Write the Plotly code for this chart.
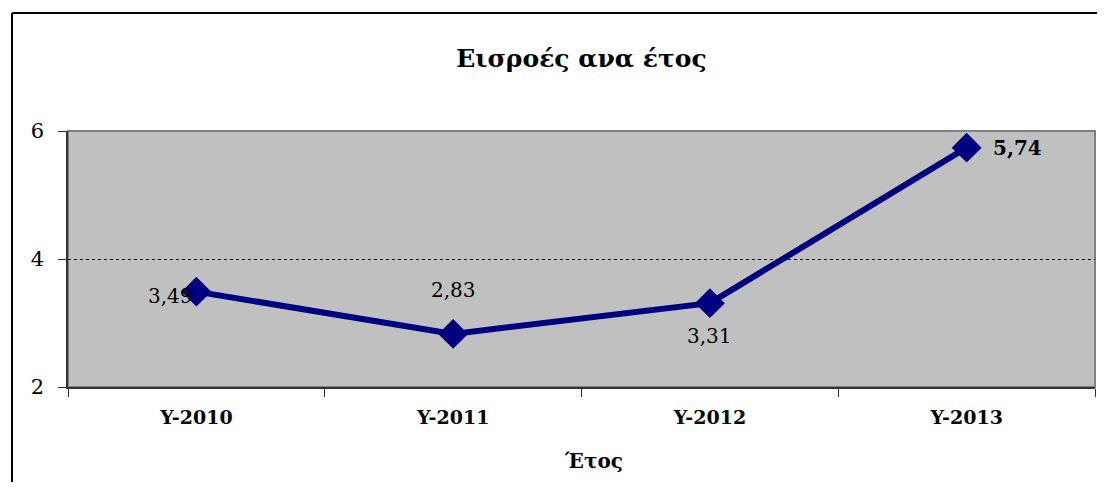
import plotly.graph_objects as go

# data
years = ["Y-2010", "Y-2011", "Y-2012", "Y-2013"]
inflows = [3.49, 2.83, 3.31, 5.74]
y_ticks = [2, 4, 6]

FONT = "DejaVu Serif"
NAVY = "#000080"

# the page body adds an 8px margin, so the figure is sized to fit inside it
W, H = 1089, 474
L, R, T, B = 60, 2, 123, 95

fig = go.Figure()
fig.add_trace(
    go.Scatter(
        x=years,
        y=inflows,
        mode="lines+markers",
        line=dict(color=NAVY, width=6),
        marker=dict(symbol="diamond", size=23, color=NAVY),
        cliponaxis=False,
        showlegend=False,
    )
)

# data labels: offsets (px) to mimic the placement in the original
label_shift = [(-26, -4), (0, 44), (0, -33), (51, 0)]
for i, (yr, val) in enumerate(zip(years, inflows)):
    dx, dy = label_shift[i]
    txt = f"{val:.2f}".replace(".", ",")
    if i == len(years) - 1:
        txt = f"<b>{txt}</b>"
    fig.add_annotation(
        x=yr, y=val, xref="x", yref="y",
        text=txt, showarrow=False,
        xanchor="center", yanchor="middle",
        xshift=dx, yshift=dy,
        font=dict(family=FONT, size=20, color="black"),
    )

fig.update_layout(
    width=W,
    height=H,
    margin=dict(l=L, r=R, t=T, b=B),
    paper_bgcolor="white",
    plot_bgcolor="#C0C0C0",
    separators=",.",
    title=dict(
        text="<b>Εισροές ανα έτος</b>",
        x=0.5,
        xref="paper",
        y=1 - 50 / H,
        yref="container",
        yanchor="middle",
        font=dict(family=FONT, size=25, color="black"),
    ),
    font=dict(family=FONT, color="black"),
)

fig.update_xaxes(
    type="category",
    range=[-0.5, 3.5],
    tickson="boundaries",
    ticks="outside",
    ticklen=8,
    tickcolor="#333333",
    showgrid=False,
    showline=True,
    linecolor="#333333",
    linewidth=1.5,
    tickfont=dict(family=FONT, size=19, color="black"),
    ticktext=[f"<b>{y}</b>" for y in years],
    tickvals=years,
    ticklabelstandoff=12,
)

fig.update_yaxes(
    range=[2, 6],
    tickvals=y_ticks,
    ticks="outside",
    ticklen=8,
    tickcolor="#333333",
    showgrid=True,
    gridcolor="black",
    gridwidth=1,
    griddash="dot",
    zeroline=False,
    showline=True,
    linecolor="#333333",
    linewidth=1.5,
    ticklabelstandoff=10,
    tickfont=dict(family=FONT, size=21, color="black"),
)

pw, ph = W - L - R, H - T - B

# x axis title, placed slightly right of centre as in the original
fig.add_annotation(
    text="<b>Έτος</b>", showarrow=False,
    xref="paper", yref="paper",
    x=(585 - L) / pw, y=(H - B - 453) / ph,
    xanchor="center", yanchor="middle",
    font=dict(family=FONT, size=20, color="black"),
)

# plot area frame (top/right edges in gray)
fig.add_shape(type="rect", xref="paper", yref="paper",
              x0=0, x1=1, y0=0, y1=1,
              line=dict(color="#808080", width=2), layer="below")

# outer chart border (left and top edges visible in the crop)
bx = (4 - L) / pw
by = (H - B - 5) / ph
fig.add_shape(type="line", xref="paper", yref="paper",
              x0=bx, x1=bx, y0=by, y1=-0.6,
              line=dict(color="black", width=2))
fig.add_shape(type="line", xref="paper", yref="paper",
              x0=bx, x1=1.05, y0=by, y1=by,
              line=dict(color="black", width=2))

fig.write_html("out.html")
